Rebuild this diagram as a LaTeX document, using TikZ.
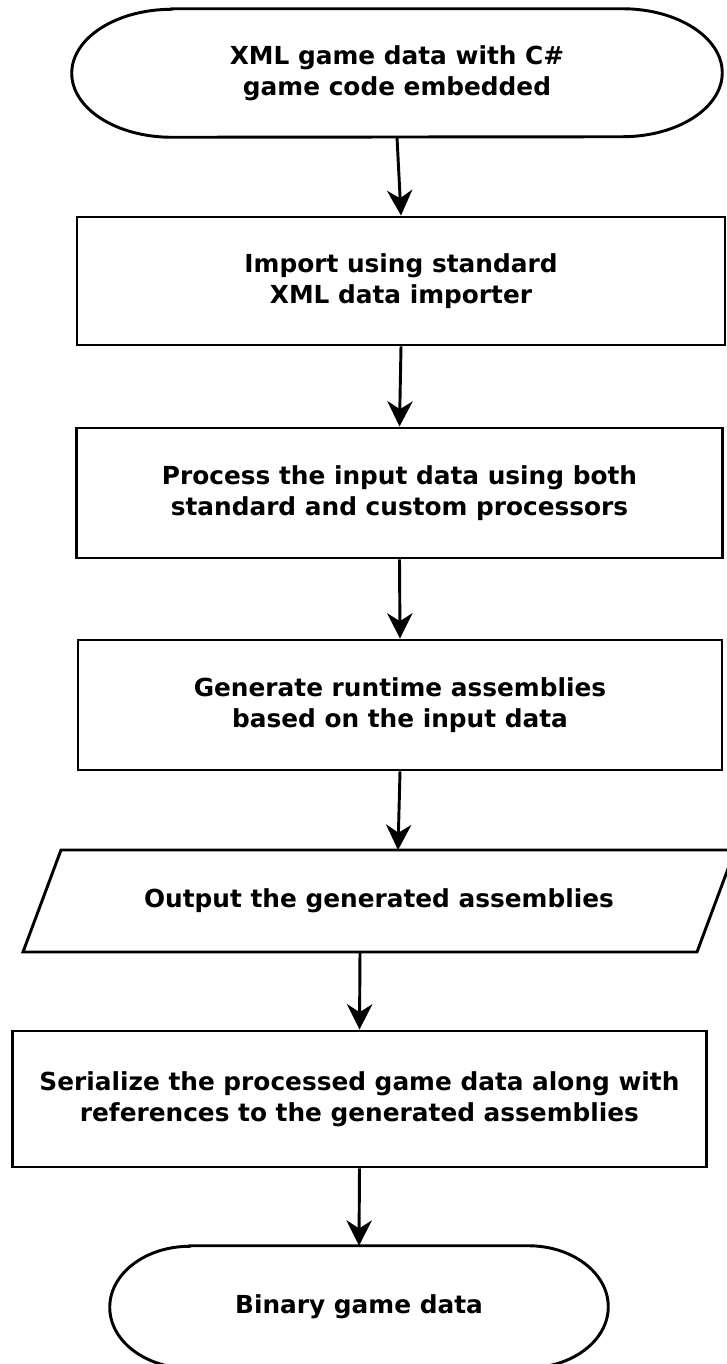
\documentclass[tikz,border=0pt]{standalone}
\usepackage{fontspec}
\setmainfont{DejaVu Sans}
\usetikzlibrary{arrows.meta}

\tikzset{
	flowline/.style={line width=2.2pt},
	flowarrow/.style={line width=2.2pt, -{Stealth[length=19pt, width=19pt, inset=6pt]}},
	flowtext/.style={align=center, inner sep=0pt, font=\fontsize{18.6}{23.25}\selectfont\bfseries},
	stepbox/.style={flowtext, draw, line width=2.2pt},
}

\begin{document}
\begin{tikzpicture}[x=0.75pt, y=-0.75pt]
	\useasboundingbox (0,0) rectangle (726,1364);
	% start / end terminals (outline drawn below)
	\node [flowtext, minimum width=487.5pt, minimum height=96pt] (source) at (397,73) {XML game data with C\#\\game code embedded};
	\node [flowtext, minimum width=373.5pt, minimum height=91.5pt] (binary) at (359,1307) {Binary game data};
	% process steps
	\node [stepbox, minimum width=486pt, minimum height=96pt] (import) at (401,281) {Import using standard\\XML data importer};
	\node [stepbox, minimum width=485pt, minimum height=97.5pt] (process) at (399.5,493) {Process the input data using both\\standard and custom processors};
	\node [stepbox, minimum width=483pt, minimum height=97.5pt] (generate) at (400,705) {Generate runtime assemblies\\based on the input data};
	\node [flowtext] (output) at (379,901) {Output the generated assemblies};
	\node [stepbox, minimum width=521pt, minimum height=102pt] (serialize) at (359.5,1099) {Serialize the processed game data along with\\references to the generated assemblies};
	% parallelogram round the output step
	\coordinate (outtop) at (398,850);
	\coordinate (outbot) at (360,952);
	\draw [flowline] (61,850) -- (735,850) -- (697,952) -- (23,952) -- cycle;
	% terminal outlines
	\draw [flowline] ([xshift=75pt]source.north west) -- ([xshift=-75pt]source.north east) arc [start angle=90, end angle=-90, x radius=75pt, y radius=48pt] -- ([xshift=75pt]source.south west) arc [start angle=270, end angle=90, x radius=75pt, y radius=48pt] -- cycle;
	\draw [flowline] ([xshift=60pt]binary.north west) -- ([xshift=-60pt]binary.north east) arc [start angle=90, end angle=-90, x radius=60pt, y radius=45.75pt] -- ([xshift=60pt]binary.south west) arc [start angle=270, end angle=90, x radius=60pt, y radius=45.75pt] -- cycle;
	% connectors
	\draw [flowarrow] (source.south) -- (import.north);
	\draw [flowarrow] (import.south) -- (process.north);
	\draw [flowarrow] (process.south) -- (generate.north);
	\draw [flowarrow] (generate.south) -- (outtop);
	\draw [flowarrow] (outbot) -- (serialize.north);
	\draw [flowarrow] (serialize.south) -- (binary.north);
\end{tikzpicture}
\end{document}
